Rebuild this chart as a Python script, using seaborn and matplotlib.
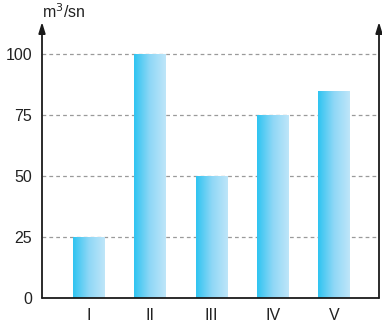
import numpy as np
import pandas as pd
import matplotlib
matplotlib.use("Agg")
import matplotlib.pyplot as plt
import seaborn as sns
from matplotlib.colors import LinearSegmentedColormap

# data
categories = ["I", "II", "III", "IV", "V"]
values = [25, 100, 50, 75, 85]
yticks = [0, 25, 50, 75, 100]

df = pd.DataFrame({"cat": categories, "val": values})

sns.set_style("white")
plt.rcParams["font.family"] = ["Liberation Sans", "DejaVu Sans"]

fig = plt.figure(figsize=(3.82, 3.23), dpi=100)
ax = fig.add_axes([42 / 382, 25 / 323, 337 / 382, 276 / 323])

sns.barplot(data=df, x="cat", y="val", width=0.52, color="#7fd3f5", ax=ax, zorder=3)

# gradient fill clipped to each bar
cmap = LinearSegmentedColormap.from_list("grad", ["#2ec4f1", "#8fd7f6", "#bfe6f9"])
grad = np.linspace(0, 1, 256).reshape(1, -1)
for p in ax.patches:
    x0, y0 = p.get_x(), p.get_y()
    w, h = p.get_width(), p.get_height()
    p.set_facecolor("none")
    p.set_edgecolor("none")
    im = ax.imshow(grad, cmap=cmap, aspect="auto", extent=[x0, x0 + w, y0, y0 + h],
                   zorder=3, interpolation="bicubic")
    im.set_clip_path(p)
ax.set_xlim(-0.767, 4.735)
ax.set_ylim(0, 113.1)

# dashed gridlines
for t in yticks[1:]:
    ax.axhline(t, color="#9a9a9a", lw=0.9, ls=(0, (3, 2.5)), zorder=1)

for s in ["top", "left", "right", "bottom"]:
    ax.spines[s].set_visible(False)

# axis lines with arrows
for xa in (0, 1.0):
    ax.annotate("", xy=(xa, 1.0), xytext=(xa, 0), xycoords="axes fraction",
                arrowprops=dict(arrowstyle="-|>,head_length=0.65,head_width=0.2",
                                color="#1a1a1a", lw=1.3, shrinkA=0, shrinkB=0))
ax.plot([0, 1], [0, 0], transform=ax.transAxes, color="#1a1a1a", lw=1.3,
        clip_on=False, zorder=5)

ax.set_yticks(yticks)
ax.set_yticklabels([str(t) for t in yticks], fontsize=11.5, color="#222222")
ax.set_xticks(range(len(categories)))
ax.set_xticklabels(categories, fontsize=11.5, color="#222222")
ax.tick_params(axis="both", length=0, pad=7)
ax.set_xlabel("")
ax.set_ylabel("")

fig.text(42 / 382, 1 - 12 / 323, "m$^3$/sn", fontsize=11.5, color="#222222",
         ha="left", va="center")

fig.savefig("out.png", dpi=100)
